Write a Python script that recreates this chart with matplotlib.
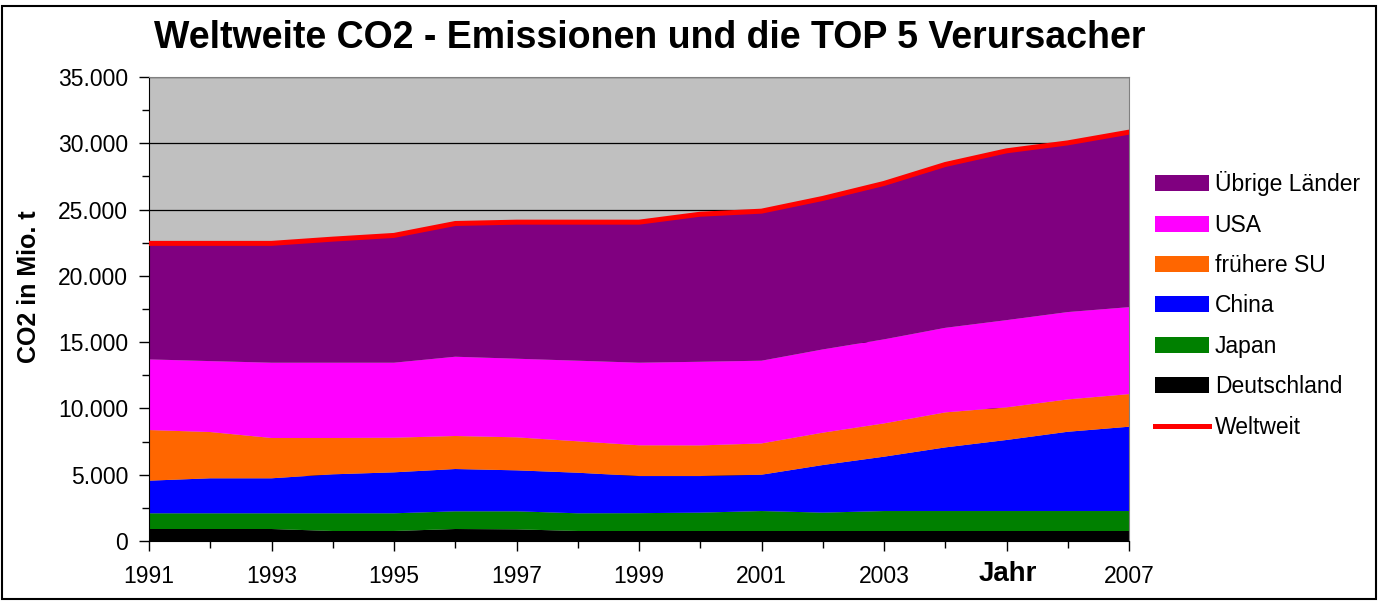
import matplotlib
matplotlib.use("Agg")
import matplotlib.pyplot as plt
from matplotlib.patches import Patch, Rectangle
from matplotlib.lines import Line2D
from matplotlib.ticker import FixedLocator, MultipleLocator, FuncFormatter

plt.rcParams['font.family'] = ['Liberation Sans', 'DejaVu Sans']

years = list(range(1991, 2008))
deutschland = [905, 905, 905, 755, 755, 905, 880, 755, 755, 755, 755, 755, 755, 755, 755, 755, 755]
japan = [1185, 1185, 1185, 1335, 1335, 1335, 1360, 1335, 1345, 1385, 1505, 1385, 1505, 1505, 1505, 1505, 1505]
china = [2460, 2640, 2640, 2940, 3090, 3190, 3090, 3060, 2800, 2760, 2740, 3590, 4100, 4800, 5360, 5980, 6360]
fruehere_su = [3820, 3490, 3040, 2740, 2610, 2490, 2490, 2370, 2320, 2310, 2360, 2440, 2510, 2640, 2460, 2440, 2460]
usa = [5330, 5350, 5680, 5680, 5660, 5980, 5930, 6080, 6230, 6310, 6240, 6280, 6340, 6380, 6580, 6590, 6560]
uebrige = [8750, 8880, 9000, 9320, 9600, 10050, 10300, 10450, 10600, 11130, 11280, 11390, 11760, 12320, 12770, 12760, 13200]
weltweit = [22450, 22450, 22450, 22770, 23050, 23950, 24050, 24050, 24050, 24650, 24880, 25840, 26970, 28400, 29430, 30030, 30840]

series_names = ['Deutschland', 'Japan', 'China', 'frühere SU', 'USA', 'Übrige Länder']
series_vals = [deutschland, japan, china, fruehere_su, usa, uebrige]
colors = ['#000000', '#008000', '#0000FF', '#FF6600', '#FF00FF', '#800080']
xtick_labels = ['1991', '1993', '1995', '1997', '1999', '2001', '2003', '', '2007']

W, H = 1378, 601
fig = plt.figure(figsize=(W/100, H/100), dpi=100)
ax = fig.add_axes([149/W, 1-541/H, (1129-149)/W, (541-77)/H])
ax.set_facecolor('#C0C0C0')

ax.stackplot(years, *series_vals, colors=colors, zorder=2, linewidth=0)
ax.plot(years, weltweit, color='#FF0000', lw=3.6, zorder=3, solid_capstyle='round')

ax.set_xlim(1991, 2007)
ax.set_ylim(0, 35000)
ax.yaxis.set_major_locator(MultipleLocator(5000))
ax.yaxis.set_minor_locator(MultipleLocator(2500))
ax.yaxis.set_major_formatter(FuncFormatter(lambda v, p: f"{int(v):,}".replace(',', '.')))
ax.xaxis.set_major_locator(FixedLocator(list(range(1991, 2008, 2))))
ax.xaxis.set_minor_locator(FixedLocator(years))
ax.set_xticklabels(xtick_labels)
ax.grid(axis='y', which='major', color='#000000', lw=0.9, zorder=1)
ax.set_axisbelow(True)
ax.tick_params(axis='both', which='major', direction='out', length=7, width=1, labelsize=16.5, colors='#000000')
ax.tick_params(axis='both', which='minor', direction='out', length=5, width=1)
ax.tick_params(axis='x', pad=10)
ax.tick_params(axis='y', pad=8)
for s in ['top', 'right']:
    ax.spines[s].set_color('#808080')
for s in ['left', 'bottom']:
    ax.spines[s].set_color('#000000')

fig.text(1008/W, 1-574/H, 'Jahr', ha='center', va='center', fontsize=20, fontweight='bold')
fig.text(29/W, 1-287/H, 'CO2 in Mio. t', ha='center', va='center', rotation=90,
         fontsize=18, fontweight='bold')

fig.text(650/W, 1-38/H, 'Weltweite CO2 - Emissionen und die TOP 5 Verursacher',
         ha='center', va='center', fontsize=27, fontweight='bold')

handles = [Patch(facecolor=colors[i], edgecolor='none') for i in range(5, -1, -1)]
labels = [series_names[i] for i in range(5, -1, -1)]
handles.append(Line2D([], [], color='#FF0000', lw=3.6))
labels.append('Weltweit')
fig.legend(handles, labels, loc='upper left', bbox_to_anchor=(1146/W, 1-162/H),
           frameon=False, fontsize=16.5, handlelength=2.35, handleheight=0.7,
           labelspacing=0.76, handletextpad=0.25, borderaxespad=0)

fig.add_artist(Rectangle((2/W, 2/H), 1-4/W, 1-8/H, transform=fig.transFigure,
                         fill=False, edgecolor='#000000', lw=1.5))

fig.savefig('out.png', dpi=100)
